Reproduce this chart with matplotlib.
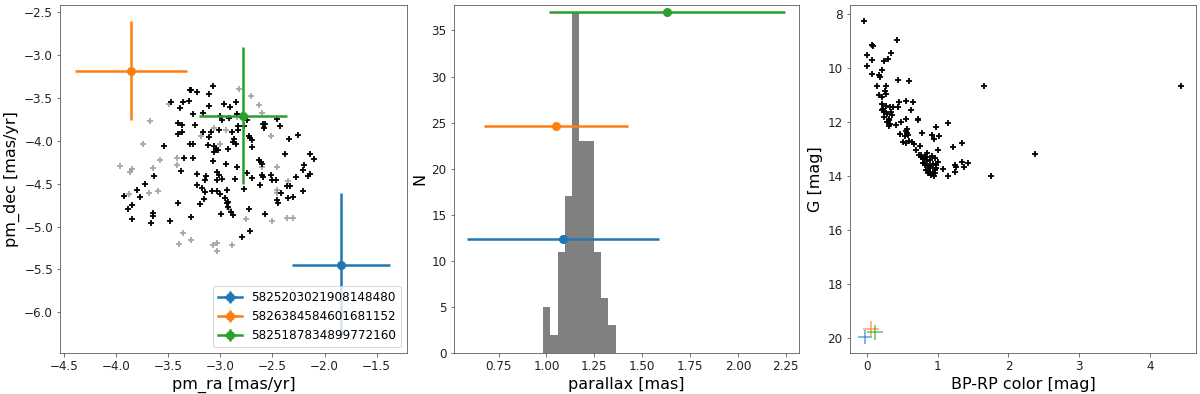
import numpy as np
import matplotlib
matplotlib.use("Agg")
import matplotlib.pyplot as plt

# --- data ---
source_ids = ["5825203021908148480", "5826384584601681152", "5825187834899772160"]
colors = ["tab:blue", "tab:orange", "tab:green"]

# proper motions of the three sources
src_pmra = [-1.844, -3.86, -2.785]
src_pmra_err = [0.47, 0.535, 0.42]
src_pmdec = [-5.452, -3.18, -3.705]
src_pmdec_err = [0.85, 0.58, 0.80]

# parallaxes of the three sources (drawn at 1/3, 2/3, 3/3 of the peak count)
src_plx = [1.087, 1.050, 1.629]
src_plx_err = [0.50, 0.374, 0.617]
src_plx_level = [12.33, 24.67, 37.0]

# photometry of the three sources
src_bprp = [-0.02, 0.06, 0.12]
src_bprp_err = [0.10, 0.11, 0.11]
src_gmag = [19.96, 19.66, 19.79]
src_gmag_err = [0.27, 0.28, 0.27]

# cluster members (black) in proper motion space
mem_pmra = [-3.07, -3.29, -3.28, -3.22, -3.11, -3.47, -3.36, -3.30, -3.39, -3.11,
            -2.97, -2.91, -2.85, -3.26, -3.17, -3.00, -2.98, -2.92, -2.84, -2.83,
            -2.83, -2.74, -2.77, -2.59, -2.57, -2.58, -2.46, -2.43, -3.41, -3.37,
            -3.24, -3.41, -3.37, -3.17, -3.11, -3.09, -3.01, -2.89, -2.87, -2.88,
            -2.85, -2.73, -2.72, -2.70, -2.34, -2.25, -3.29, -3.26, -3.12, -3.06,
            -3.04, -3.02, -3.06, -2.93, -2.70, -3.54, -2.38, -2.14, -2.10, -3.35,
            -3.26, -3.07, -2.95, -2.84, -2.63, -2.61, -2.60, -2.20, -2.21, -2.14,
            -2.16, -3.38, -3.64, -3.22, -3.14, -3.15, -3.03, -3.01, -3.03, -2.98,
            -2.86, -2.74, -2.70, -2.60, -2.59, -2.51, -2.50, -2.47, -2.27, -2.36,
            -2.33, -2.21, -2.30, -2.35, -2.42, -2.46, -2.45, -3.72, -3.80, -3.93,
            -3.77, -3.85, -3.89, -3.22, -3.18, -3.15, -3.08, -3.03, -2.94, -2.77,
            -2.62, -3.00, -2.96, -2.93, -2.94, -2.93, -2.90, -2.88, -3.41, -3.20,
            -3.16, -2.99, -2.73, -2.57, -3.85, -3.65, -3.65, -3.67, -3.48, -3.28,
            -2.72, -2.79]
mem_pmdec = [-3.36, -3.40, -3.41, -3.43, -3.45, -3.55, -3.54, -3.53, -3.62, -3.59,
             -3.57, -3.60, -3.55, -3.69, -3.67, -3.71, -3.76, -3.73, -3.69, -3.82,
             -3.87, -3.76, -3.83, -3.80, -3.80, -3.85, -3.74, -3.82, -3.79, -3.81,
             -3.81, -3.92, -3.90, -3.90, -3.95, -3.90, -3.87, -3.89, -3.98, -4.01,
             -4.03, -3.94, -3.97, -3.99, -3.98, -3.93, -4.04, -4.04, -4.05, -4.06,
             -4.09, -4.10, -4.13, -4.09, -4.07, -4.06, -4.15, -4.15, -4.21, -4.20,
             -4.20, -4.23, -4.27, -4.30, -4.22, -4.24, -4.27, -4.28, -4.34, -4.38,
             -4.41, -4.35, -4.41, -4.39, -4.41, -4.45, -4.36, -4.40, -4.45, -4.44,
             -4.44, -4.37, -4.43, -4.40, -4.42, -4.40, -4.45, -4.46, -4.42, -4.53,
             -4.53, -4.59, -4.65, -4.67, -4.61, -4.69, -4.72, -4.50, -4.57, -4.64,
             -4.66, -4.75, -4.80, -4.51, -4.55, -4.60, -4.58, -4.58, -4.57, -4.56,
             -4.52, -4.62, -4.67, -4.71, -4.73, -4.77, -4.83, -4.87, -4.72, -4.74,
             -4.68, -4.85, -4.80, -4.85, -4.91, -4.84, -4.88, -4.96, -4.94, -4.89,
             -5.05, -5.12]

# rejected stars (grey) in proper motion space
rej_pmra = [-2.82, -2.71, -2.63, -2.60, -3.49, -3.68, -3.06, -2.95, -3.19, -2.51,
            -3.74, -3.00, -3.58, -3.42, -3.42, -3.96, -3.85, -3.87, -3.65, -2.60,
            -2.46, -3.69, -3.60, -3.88, -2.35, -2.46, -2.46, -2.75, -2.50, -2.36,
            -2.30, -3.36, -3.40, -3.28, -3.07, -3.03, -3.03, -2.89, -2.84, -2.92]
rej_pmdec = [-3.39, -3.48, -3.58, -3.67, -3.57, -3.77, -3.85, -3.87, -3.94, -3.94,
             -4.03, -4.03, -4.22, -4.20, -4.28, -4.29, -4.33, -4.36, -4.32, -4.30,
             -4.30, -4.61, -4.58, -4.62, -4.47, -4.57, -4.61, -4.91, -4.94, -4.90,
             -4.90, -5.08, -5.20, -5.16, -5.22, -5.19, -5.28, -5.21, -3.72, -4.79]

# parallax histogram of members
plx_edges = [0.982, 1.020, 1.058, 1.096, 1.134, 1.172, 1.210, 1.248, 1.286, 1.324, 1.362]
plx_counts = [5, 2, 11, 17, 37, 23, 23, 11, 6, 3]

# colour-magnitude diagram of members
cmd_bprp = [-0.04, 0.43, 0.07, 0.09, 0.00, 0.34, 0.01, 0.08, 0.25, 0.30,
            0.21, 0.07, 0.18, 0.19, 0.44, 0.60, 0.15, 0.27, 0.26, 0.27,
            0.17, 0.21, 1.65, 4.43, 0.45, 0.56, 0.65, 0.21, 0.23, 0.27,
            0.33, 0.37, 0.44, 0.63, 0.24, 0.35, 0.29, 0.36, 0.25, 0.31,
            0.56, 0.73, 0.29, 0.33, 0.41, 0.49, 0.32, 1.15, 0.98, 0.57,
            0.55, 0.47, 0.78, 0.92, 1.02, 0.54, 0.58, 0.95, 0.51, 0.64,
            0.67, 0.56, 0.75, 1.35, 1.22, 0.69, 1.00, 0.77, 0.82, 0.92,
            2.38, 0.79, 0.85, 0.89, 0.97, 1.01, 0.80, 0.88, 0.93, 0.98,
            0.84, 0.90, 0.96, 0.87, 0.91, 0.95, 0.97, 1.08, 1.15, 1.25,
            1.26, 1.25, 1.34, 1.37, 1.43, 1.76, 0.74, 0.83, 0.85, 0.89,
            0.98, 0.76, 0.22, 0.25, 0.31, 0.57, 0.72, 0.60, 0.84, 0.93]
cmd_gmag = [8.27, 8.96, 9.14, 9.19, 9.51, 9.44, 9.94, 9.72, 9.74, 9.67,
            10.09, 10.24, 10.28, 10.34, 10.44, 10.50, 10.68, 10.68, 10.86, 10.98,
            11.02, 11.08, 10.68, 10.66, 11.26, 11.22, 11.26, 11.35, 11.51, 11.42,
            11.45, 11.47, 11.47, 11.55, 11.63, 11.63, 11.72, 11.75, 11.84, 11.88,
            11.88, 11.91, 12.00, 12.09, 12.12, 12.02, 12.16, 12.06, 12.18, 12.25,
            12.33, 12.46, 12.41, 12.47, 12.53, 12.53, 12.49, 12.64, 12.74, 12.74,
            12.82, 12.80, 12.89, 12.80, 12.95, 13.05, 13.05, 13.23, 13.29, 13.27,
            13.19, 13.39, 13.45, 13.42, 13.35, 13.48, 13.54, 13.64, 13.58, 13.72,
            13.78, 13.85, 13.78, 13.91, 13.97, 14.01, 13.91, 13.76, 14.02, 13.60,
            13.66, 13.85, 13.48, 13.66, 13.51, 14.02, 13.23, 13.60, 13.17, 13.72,
            13.60, 13.32, 11.55, 11.60, 11.95, 12.40, 11.92, 12.70, 13.30, 13.88]

plt.rcParams['axes.edgecolor'] = '#555555'
plt.rcParams['xtick.color'] = '#555555'
plt.rcParams['ytick.color'] = '#555555'
plt.rcParams['xtick.labelcolor'] = '#222222'
plt.rcParams['ytick.labelcolor'] = '#222222'

fig = plt.figure(figsize=(1200 / 72, 394 / 72), dpi=72)
ax1 = fig.add_axes([0.050, 0.104, 0.289, 0.883])
ax2 = fig.add_axes([0.378, 0.104, 0.288, 0.883])
ax3 = fig.add_axes([0.708, 0.104, 0.289, 0.883])

# panel 1: proper motions
ax1.scatter(rej_pmra, rej_pmdec, marker='+', s=30, linewidths=1.8, color='gray', alpha=0.7)
ax1.scatter(mem_pmra, mem_pmdec, marker='+', s=30, linewidths=1.8, color='black')
for i in range(3):
    ax1.errorbar(src_pmra[i], src_pmdec[i], xerr=src_pmra_err[i], yerr=src_pmdec_err[i],
                 marker='o', color=colors[i], lw=2.5, ms=8, label=source_ids[i])
ax1.set_xlim(-4.54, -1.21)
ax1.set_ylim(-6.475, -2.415)
ax1.set_xlabel('pm_ra [mas/yr]', fontsize=16)
ax1.set_ylabel('pm_dec [mas/yr]', fontsize=16)
ax1.legend(loc='lower right', fontsize=12)

# panel 2: parallax histogram
ax2.hist(plx_edges[:-1], bins=plx_edges, weights=plx_counts, color='gray')
for i in range(3):
    ax2.errorbar(src_plx[i], src_plx_level[i], xerr=src_plx_err[i],
                 marker='o', color=colors[i], lw=2.5, ms=8)
ax2.set_xlim(0.515, 2.32)
ax2.set_ylim(0, 37.75)
ax2.set_xlabel('parallax [mas]', fontsize=16)
ax2.set_ylabel('N', fontsize=16)

# panel 3: colour-magnitude diagram
ax3.scatter(cmd_bprp, cmd_gmag, marker='+', s=30, linewidths=1.8, color='black')
for i in range(3):
    ax3.errorbar(src_bprp[i], src_gmag[i], xerr=src_bprp_err[i], yerr=src_gmag_err[i],
                 fmt='none', color=colors[i], lw=1.5, alpha=0.7)
ax3.set_xlim(-0.24, 4.65)
ax3.set_ylim(20.56, 7.68)
ax3.set_xlabel('BP-RP color [mag]', fontsize=16)
ax3.set_ylabel('G [mag]', fontsize=16)

for ax in (ax1, ax2, ax3):
    ax.tick_params(labelsize=12)

fig.savefig('out.png', dpi=72)
